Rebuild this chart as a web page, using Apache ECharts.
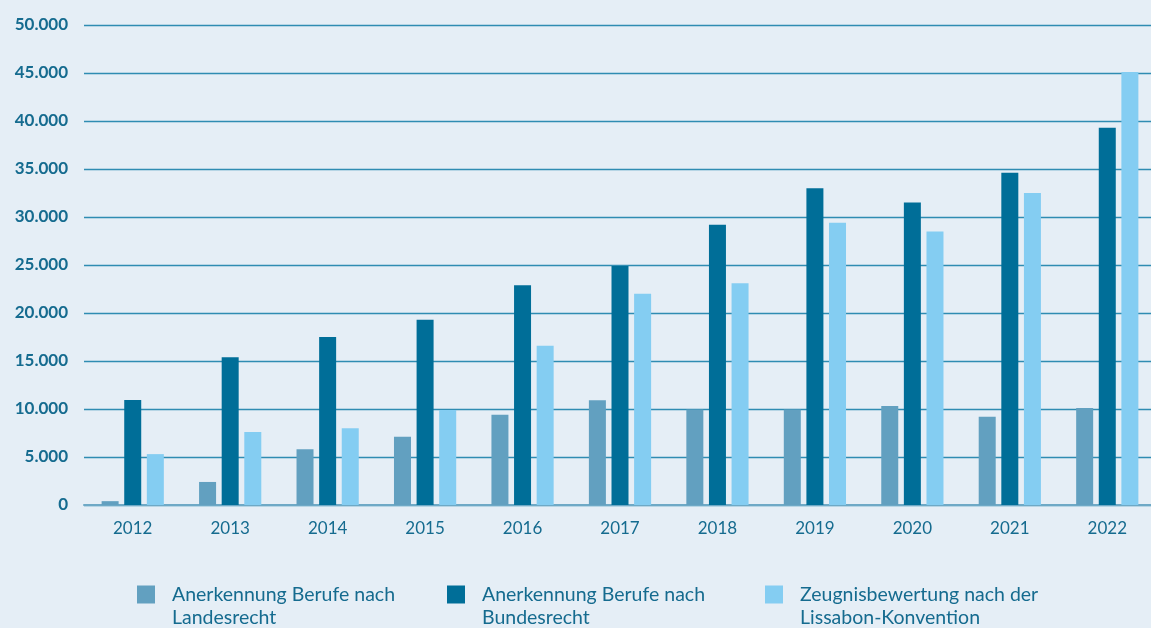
<!DOCTYPE html>
<html lang="de">
<head>
	<meta charset="UTF-8">
	<title>Anerkennung und Zeugnisbewertung</title>
	<script src="https://cdn.jsdelivr.net/npm/echarts@6/dist/echarts.min.js"></script>
	<style>
		html, body { margin: 0; padding: 0; background: #e5eef6; }
		#chartBox { width: 1151px; height: 628px; }
	</style>
</head>
<body>
<div id="chartBox"></div>
<script>
    // Daten
    var years = ['2012', '2013', '2014', '2015', '2016', '2017', '2018', '2019', '2020', '2021', '2022'];
    var landesrecht = [400, 2400, 5800, 7100, 9400, 10900, 9950, 9950, 10300, 9200, 10100];
    var bundesrecht = [10950, 15400, 17500, 19300, 22900, 24900, 29200, 33000, 31500, 34600, 39300];
    var lissabon = [5300, 7600, 8000, 9900, 16600, 22000, 23100, 29400, 28500, 32500, 45100];
    var seriesNames = ['Anerkennung Berufe nach\nLandesrecht', 'Anerkennung Berufe nach\nBundesrecht', 'Zeugnisbewertung nach der\nLissabon-Konvention'];
    var colors = ['#62a0c0', '#006e98', '#84cdf2'];

    var textColor = '#156b8f';

    function fmt(v) {
        return String(v).replace(/\B(?=(\d{3})+(?!\d))/g, '.');
    }

    // leere erste Zeile, damit das Symbol neben der ersten Textzeile steht
    function legendAt(name, left) {
        return {
            data: [name],
            left: left,
            top: 560,
            padding: 0,
            itemWidth: 18,
            itemHeight: 18,
            icon: 'rect',
            formatter: function (n) { return '\u00a0\n' + n; },
            textStyle: {
                color: textColor,
                fontFamily: 'Lato',
                fontSize: 19.5,
                lineHeight: 23,
                padding: [0, 0, 0, 12]
            }
        };
    }

    var myChart = echarts.init(document.getElementById('chartBox'));
    var option = {
        backgroundColor: '#e5eef6',
        animation: false,
        color: colors,
        grid: {
            left: 84,
            width: 1072,
            top: 25,
            bottom: 123,
            outerBoundsMode: 'none'
        },
        legend: [
            legendAt(seriesNames[0], 137),
            legendAt(seriesNames[1], 447),
            legendAt(seriesNames[2], 765)
        ],
        xAxis: {
            type: 'category',
            data: years,
            axisTick: { show: false },
            axisLine: { lineStyle: { color: '#6ea9c6', width: 2 } },
            axisLabel: {
                color: textColor,
                fontFamily: 'Lato',
                fontSize: 17,
                margin: 15
            }
        },
        yAxis: {
            type: 'value',
            min: 0,
            max: 50000,
            interval: 5000,
            axisLine: { show: false },
            axisTick: { show: false },
            splitLine: { lineStyle: { color: '#2f8cb2', width: 1.3 } },
            axisLabel: {
                color: textColor,
                fontFamily: 'Lato',
                fontWeight: 'bold',
                fontSize: 17,
                margin: 16,
                formatter: fmt
            }
        },
        series: [
            { name: seriesNames[0], type: 'bar', data: landesrecht, barWidth: 17, barGap: '33%' },
            { name: seriesNames[1], type: 'bar', data: bundesrecht, barWidth: 17, barGap: '33%' },
            { name: seriesNames[2], type: 'bar', data: lissabon, barWidth: 17, barGap: '33%' }
        ]
    };
    myChart.setOption(option);
</script>
</body>
</html>
